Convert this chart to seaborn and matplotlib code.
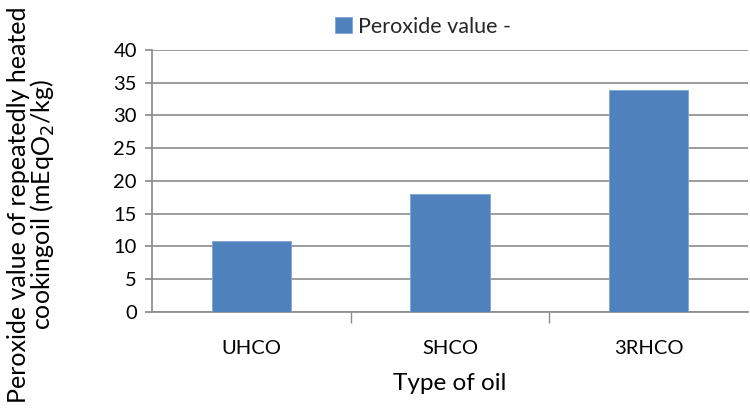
import pandas as pd
import numpy as np
import matplotlib
matplotlib.use("Agg")
import matplotlib.pyplot as plt
import seaborn as sns

oils = ["UHCO", "SHCO", "3RHCO"]
peroxide = [10.8, 18.0, 33.9]
series_name = "Peroxide value -"

df = pd.DataFrame({"oil": oils, "value": peroxide, "series": series_name})

sns.set_theme(style="white")
plt.rcParams["font.family"] = ["Lato", "DejaVu Sans"]

fig = plt.figure(figsize=(7.5, 4.12), dpi=100)
ax = fig.add_axes([0.203, 0.243, 0.794, 0.636])

sns.barplot(data=df, x="oil", y="value", hue="series", palette=["#4F81BD"],
            saturation=1, width=0.4, edgecolor="#7FA6D6", linewidth=0.6,
            ax=ax, zorder=3)

ax.set_ylim(0, 40)
ax.set_yticks(np.arange(0, 41, 5))
ax.set_xlim(-0.5, 2.5)
ax.yaxis.grid(True, color="#8C8C8C", linewidth=1.2, zorder=0)
ax.set_axisbelow(True)

for s in ["top", "right"]:
    ax.spines[s].set_visible(False)
ax.spines["left"].set_color("#8C8C8C")
ax.spines["bottom"].set_color("#8C8C8C")

ax.tick_params(axis="y", which="major", left=True, length=5, color="#8C8C8C",
               labelsize=14.5, pad=6, labelcolor="black")
ax.tick_params(axis="x", which="major", bottom=False, labelsize=14.5, pad=14,
               labelcolor="black")
ax.set_xticks([0.5, 1.5], minor=True)
ax.tick_params(axis="x", which="minor", bottom=True, length=8, color="#8C8C8C")

ax.set_xlabel("Type of oil", fontsize=17.5, labelpad=12, color="black")
ax.set_ylabel("Peroxide value of repeatedly heated\ncookingoil (mEqO$_2$/kg)",
              fontsize=18, linespacing=0.95, color="black")
ax.yaxis.set_label_coords(-0.16, 0.41)

leg = ax.legend(loc="upper center", bbox_to_anchor=(0.455, 1.2), frameon=False,
                fontsize=15.5, handlelength=0.75, handleheight=0.75,
                handletextpad=0.3)

fig.savefig("out.png", dpi=100)
